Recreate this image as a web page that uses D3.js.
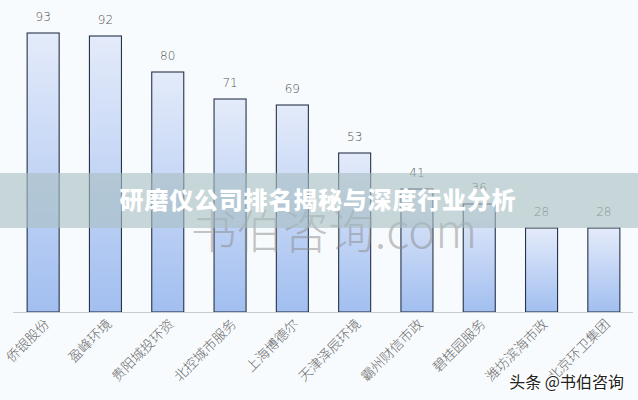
<!DOCTYPE html>
<html><head><meta charset="utf-8">
<script src="https://cdn.jsdelivr.net/npm/d3@7"></script>
<style>html,body{margin:0;padding:0;background:#f8fbfd;}svg{display:block;}</style>
</head><body><svg id="c" width="638" height="400"></svg>
<script>
const categories = ["侨银股份","盈峰环境","贵阳城投环资","北控城市服务","上海博德尔","天津泽辰环境","霸州财信市政","碧桂园服务","潍坊滨海市政","北京环卫集团"];
const values = [93,92,80,71,69,53,41,36,28,28];
const title = "研磨仪公司排名揭秘与深度行业分析";
const watermark = "书伯咨询.com";
const credit = "头条 @书伯咨询";

const W=638,H=400, baseY=312;
const svg=d3.select("#c");
svg.append("rect").attr("width",W).attr("height",H).attr("fill","#f8fbfd");
const defs=svg.append("defs");
const g=defs.append("linearGradient").attr("id","bg").attr("x1",0).attr("y1",0).attr("x2",0).attr("y2",1);
g.append("stop").attr("offset","0%").attr("stop-color","#e4ebfa");
g.append("stop").attr("offset","100%").attr("stop-color","#a2bff0");

const x=d3.scaleBand().domain(categories).range([12,635]).paddingInner(0.486).paddingOuter(0.243);
const y=d3.scaleLinear().domain([0,100]).range([baseY,12]);
categories.forEach((c,i)=>{
  svg.append("rect").attr("x",x(c)).attr("y",y(values[i])).attr("width",x.bandwidth()).attr("height",baseY-y(values[i]))
   .attr("fill","url(#bg)").attr("stroke","#26334a").attr("stroke-width",1.1);
});
svg.selectAll("text.v").data(values).join("text").attr("class","v")
  .attr("x",(d,i)=>x(categories[i])+x.bandwidth()/2).attr("y",d=>y(d)-12)
  .attr("text-anchor","middle").attr("font-family","DejaVu Sans, sans-serif").attr("font-weight",300).attr("font-size",12).attr("fill","#555").text(d=>d);
const ax=svg.append("g").attr("transform",`translate(0,${baseY})`).call(d3.axisBottom(x).tickSize(0).tickPadding(0));
ax.select(".domain").attr("d","M13,0.5H633").attr("stroke","#c8cdd3").attr("stroke-width",1.2);
ax.selectAll(".tick text").attr("font-family","Noto Sans CJK SC, sans-serif").attr("font-weight",300).attr("font-size",13.5).attr("fill","#6a6a6a")
  .attr("text-anchor","end").attr("dy",0).attr("transform","translate(7,13) rotate(-45)");
svg.append("text").attr("x",334).attr("y",248).attr("text-anchor","middle").attr("font-family","Noto Sans CJK SC, sans-serif")
  .attr("font-weight",300).attr("font-size",46).attr("fill","#8a8a8a").attr("fill-opacity",0.5).text(watermark);
svg.append("rect").attr("x",0).attr("y",173).attr("width",W).attr("height",55).attr("fill","#a9bfc2").attr("fill-opacity",0.62);
svg.append("text").attr("x",318).attr("y",209).attr("text-anchor","middle").attr("font-family","Noto Sans CJK SC, sans-serif")
  .attr("font-weight",900).attr("font-size",24).attr("letter-spacing",0.8).attr("fill","#ffffff").text(title);
svg.append("text").attr("x",624).attr("y",388).attr("text-anchor","end").attr("font-family","Noto Sans CJK SC, sans-serif")
  .attr("font-size",16).attr("fill","#222").attr("stroke","#ffffff").attr("stroke-width",2.5).attr("paint-order","stroke").text(credit);
</script></body></html>
